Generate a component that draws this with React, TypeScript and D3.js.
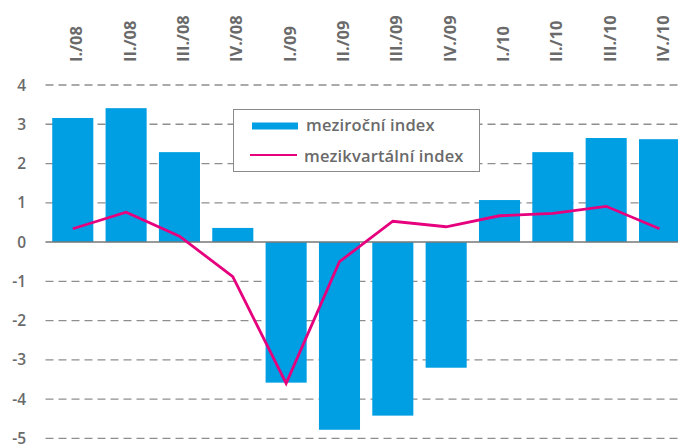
import React from "react";
import * as d3 from "d3";

const categories = ["I./08", "II./08", "III./08", "IV./08", "I./09", "II./09", "III./09", "IV./09", "I./10", "II./10", "III./10", "IV./10"];
const meziročni = [3.16, 3.41, 2.29, 0.36, -3.58, -4.78, -4.42, -3.2, 1.07, 2.29, 2.65, 2.62];
const mezikvartalni = [0.34, 0.76, 0.15, -0.88, -3.6, -0.5, 0.53, 0.39, 0.67, 0.73, 0.91, 0.34];
const yTicks = [4, 3, 2, 1, 0, -1, -2, -3, -4, -5];
const legendLabels = ["meziroční index", "mezikvartální index"];

const W = 678, H = 444;
const BLUE = "#009fe3";
const PINK = "#e6007e";
const TEXT = "#6a6a6a";
const FONT = "'Open Sans', 'Noto Sans', sans-serif";

export default function App() {
  const x = d3.scaleBand<string>().domain(categories).range([46.1, 686.2]).paddingInner(0.23).paddingOuter(0.115);
  const y = d3.scaleLinear().domain([-5, 4]).range([438.4, 85]);
  const cx = (c: string) => (x(c) as number) + x.bandwidth() / 2;
  const line = d3.line<number>().x((_, i) => cx(categories[i])).y((d) => y(d));

  return (
    <svg width={W} height={H} style={{ position: "absolute", left: 0, top: 0 }} fontFamily={FONT}>
      <rect width={W} height={H} fill="#fff" />
      {yTicks.filter((t) => t !== 0).map((t) => (
        <line key={t} x1={45.5} x2={W} y1={y(t)} y2={y(t)} stroke="#8e8e8e" strokeWidth={1.3} strokeDasharray="8,5" />
      ))}
      {yTicks.map((t) => (
        <text key={"l" + t} x={26} y={y(t)} dy="0.36em" textAnchor="end" fontSize={15.5} fontWeight={600} fill={TEXT}>
          {t}
        </text>
      ))}
      {categories.map((c, i) => {
        const v = meziročni[i];
        return (
          <rect key={c} x={x(c)} width={x.bandwidth()} y={y(Math.max(0, v))} height={Math.abs(y(v) - y(0))} fill={BLUE} />
        );
      })}
      <line x1={45.5} x2={W} y1={y(0)} y2={y(0)} stroke="#777" strokeWidth={1.5} />
      <path d={line(mezikvartalni) || ""} fill="none" stroke={PINK} strokeWidth={2.8} strokeLinejoin="miter" />
      {categories.map((c) => (
        <text
          key={"x" + c}
          transform={`translate(${cx(c) + 9.5},62) rotate(-90)`}
          fontSize={16.5}
          fontWeight="bold"
          fill={TEXT}
          textAnchor="start"
        >
          {c}
        </text>
      ))}
      <rect x={233.5} y={109.5} width={246} height={62} fill="#fff" stroke="#8a8a8a" strokeWidth={1} />
      <rect x={252} y={122.5} width={46} height={7} fill={BLUE} />
      <text x={306} y={131} fontSize={16.5} letterSpacing={0.15} fontWeight={600} fill={TEXT}>{legendLabels[0]}</text>
      <line x1={250} x2={297} y1={155} y2={155} stroke={PINK} strokeWidth={2} />
      <text x={304} y={161.5} fontSize={16.5} letterSpacing={0.15} fontWeight={600} fill={TEXT}>{legendLabels[1]}</text>
    </svg>
  );
}
